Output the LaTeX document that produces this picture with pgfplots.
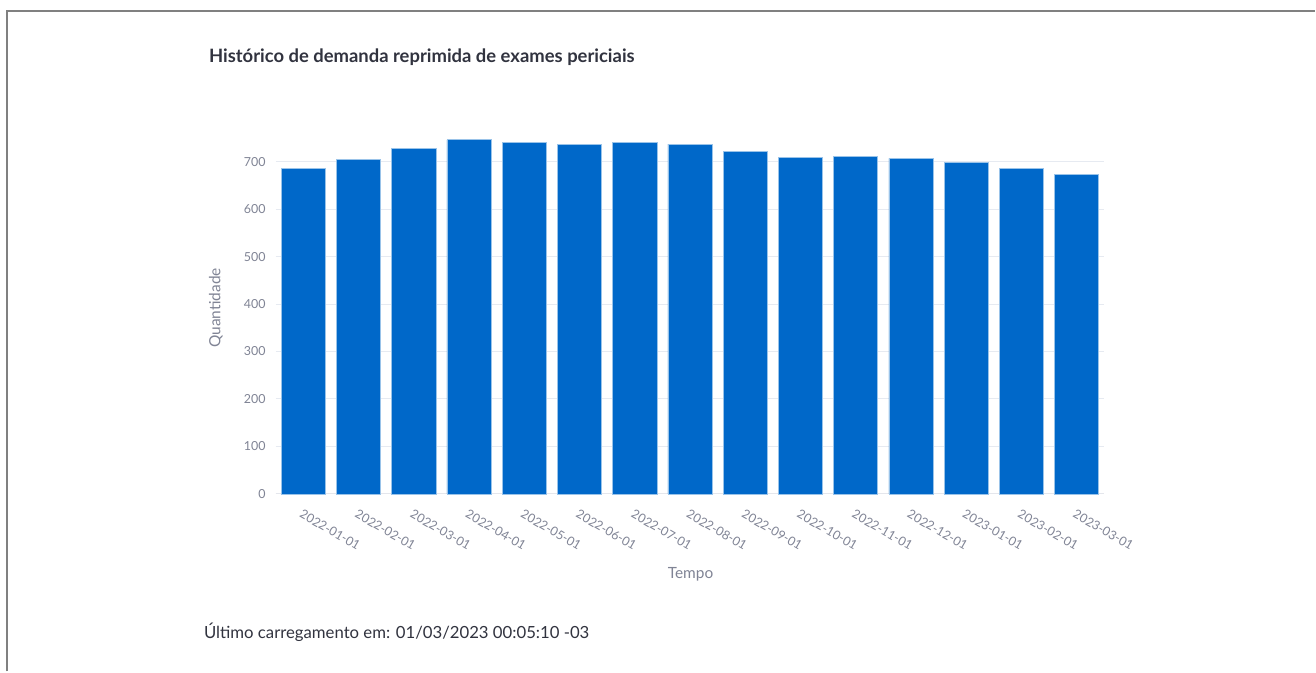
\documentclass[border=0pt]{standalone}
\usepackage{pgfplots}
\pgfplotsset{compat=1.18}
\usepackage{fontspec}
\setmainfont{Lato}
\definecolor{barblue}{HTML}{0068C9}
\definecolor{tickgray}{HTML}{808495}
\definecolor{gridgray}{HTML}{E6EAF1}
\definecolor{textdark}{HTML}{31333F}

\begin{document}
\begin{tikzpicture}[x=1bp,y=1bp]
% page frame
\path[fill=white] (0,0) rectangle (1316,672);
\draw[gray, line width=2bp] (7.5,0) -- (7.5,661) -- (1316,661);

\begin{axis}[
    at={(276bp,177.7bp)}, anchor=south west,
    scale only axis,
    width=829bp, height=372bp,
    xmin=-0.5, xmax=14.5,
    ymin=0, ymax=783,
    axis line style={draw=none},
    ybar, bar width=0.8,
    xtick=data,
    xticklabels={2022-01-01,2022-02-01,2022-03-01,2022-04-01,2022-05-01,2022-06-01,2022-07-01,2022-08-01,2022-09-01,2022-10-01,2022-11-01,2022-12-01,2023-01-01,2023-02-01,2023-03-01},
    xticklabel style={xshift=0bp, yshift=-15bp, rotate=-30, anchor=north west, font=\fontsize{12.5}{14}\selectfont, text=tickgray, inner sep=0pt},
    ytick={0,100,...,700},
    yticklabel style={font=\fontsize{12.5}{14}\selectfont, text=tickgray, inner sep=0pt, xshift=-10bp},
    ymajorgrids, major grid style={gridgray, line width=1bp},
    major tick length=0pt,
    /pgf/number format/assume math mode=true,
    clip=false,
]
\draw[gridgray!80!tickgray!60, line width=1bp] (axis cs:-0.5,0) -- (axis cs:14.5,0);
\addplot[fill=barblue, draw=barblue!40!white, line width=0.6bp] coordinates {
    (0,686) (1,704) (2,728) (3,746) (4,741) (5,736) (6,741) (7,737)
    (8,722) (9,708) (10,711) (11,707) (12,699) (13,685) (14,673)
};
\end{axis}

% axis titles
\node[rotate=90, text=tickgray, font=\fontsize{15.5}{17}\selectfont] at (216,364) {Quantidade};
\node[text=tickgray, font=\fontsize{15.5}{17}\selectfont] at (691,97) {Tempo};

% title and footer
\node[anchor=base west, inner sep=0pt, text=textdark, font=\bfseries\fontsize{18.5}{21}\selectfont] at (209,609) {Histórico de demanda reprimida de exames periciais};
\node[anchor=base west, inner sep=0pt, text=textdark, font=\fontsize{16.8}{19}\selectfont] at (204,33) {Último carregamento em: 01/03/2023 00:05:10 -03};
\end{tikzpicture}
\end{document}
